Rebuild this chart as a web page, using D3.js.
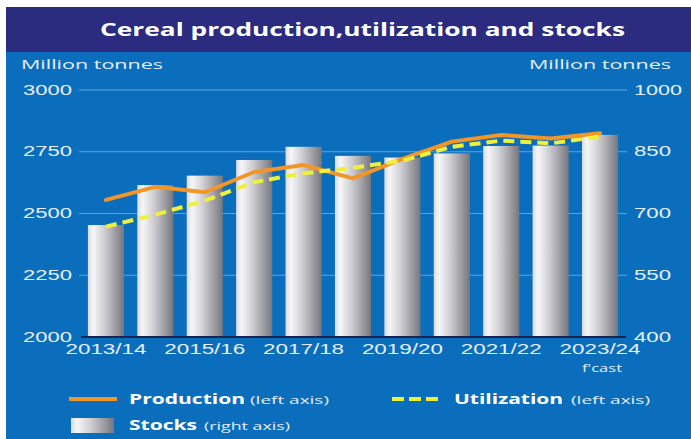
<!DOCTYPE html>
<html>
<head>
<meta charset="utf-8">
<script src="https://cdn.jsdelivr.net/npm/d3@7"></script>
<style>
  html, body { margin: 0; padding: 0; background: #fff; }
  svg { display: block; font-family: "Open Sans", "Noto Sans", sans-serif; }
</style>
</head>
<body>
<svg id="chart" width="691" height="439"></svg>
<script>
// Datos del gráfico
var seasons = ["2013/14", "2014/15", "2015/16", "2016/17", "2017/18", "2018/19",
               "2019/20", "2020/21", "2021/22", "2022/23", "2023/24"];
var production = [2555, 2608, 2586, 2668, 2696, 2642, 2721, 2791, 2818, 2804, 2825];
var utilization = [2447, 2495, 2552, 2627, 2663, 2685, 2714, 2770, 2795, 2784, 2811];
var stocks = [672, 769, 792, 830, 862, 840, 836, 846, 864, 865, 891];
var leftTicks = [2000, 2250, 2500, 2750, 3000];
var rightTicks = [400, 550, 700, 850, 1000];
var xLabels = ["2013/14", "2015/16", "2017/18", "2019/20", "2021/22", "2023/24"];

var svg = d3.select("#chart");
var plot = { left: 81, right: 625, top: 90, bottom: 337 };

// Ajusta el ancho de un texto (la imagen original está estirada)
function fit(sel, w) {
  sel.attr("textLength", w).attr("lengthAdjust", "spacingAndGlyphs");
  return sel;
}

// Fondo
svg.append("rect").attr("x", 6).attr("y", 7).attr("width", 685).attr("height", 45).attr("fill", "#2b2b7f");
svg.append("rect").attr("x", 6).attr("y", 52).attr("width", 685).attr("height", 387).attr("fill", "#0a6ebd");

// Título
fit(svg.append("text")
  .attr("x", 100).attr("y", 36)
  .attr("fill", "#fff").attr("font-size", 17).attr("font-weight", 700)
  .text("Cereal production,utilization and stocks"), 525);

// Escalas
var x = d3.scaleBand().domain(seasons).range([plot.left, plot.right]).paddingInner(0.27).paddingOuter(0.14);
var yL = d3.scaleLinear().domain([2000, 3000]).range([plot.bottom, plot.top]);
var yR = d3.scaleLinear().domain([400, 1000]).range([plot.bottom, plot.top]);

var labelColor = "#e6eef8";

// Unidades
fit(svg.append("text").attr("x", 21).attr("y", 69).attr("fill", labelColor).attr("font-size", 13).text("Million tonnes"), 142);
fit(svg.append("text").attr("x", 529).attr("y", 69).attr("fill", labelColor).attr("font-size", 13).text("Million tonnes"), 142);

// Gradiente de barras
var defs = svg.append("defs");
var grad = defs.append("linearGradient").attr("id", "barGrad").attr("x1", "0%").attr("x2", "100%");
grad.append("stop").attr("offset", "0%").attr("stop-color", "#d8dce4");
grad.append("stop").attr("offset", "15%").attr("stop-color", "#f6f6f8");
grad.append("stop").attr("offset", "45%").attr("stop-color", "#cfcfd3");
grad.append("stop").attr("offset", "100%").attr("stop-color", "#76767e");

// Líneas de grilla
svg.append("g").selectAll("line")
  .data(leftTicks.slice(1))
  .enter().append("line")
  .attr("x1", 79).attr("x2", 627)
  .attr("y1", function (d) { return yL(d); })
  .attr("y2", function (d) { return yL(d); })
  .attr("stroke", "#5ea3dd").attr("stroke-width", 1);

// Eje izquierdo
var yAxisL = d3.axisLeft(yL).tickValues(leftTicks).tickFormat(d3.format("d")).tickSize(0).tickPadding(0);
var gL = svg.append("g").attr("transform", "translate(23,0)").call(yAxisL);
gL.select(".domain").remove();
gL.selectAll("text").attr("text-anchor", "start").attr("x", 0).attr("dy", "0.3em")
  .attr("fill", labelColor).attr("font-size", 14).attr("font-family", null)
  .each(function () { fit(d3.select(this), 49); });

// Eje derecho
var yAxisR = d3.axisRight(yR).tickValues(rightTicks).tickFormat(d3.format("d")).tickSize(0).tickPadding(0);
var gR = svg.append("g").attr("transform", "translate(634,0)").call(yAxisR);
gR.select(".domain").remove();
gR.selectAll("text").attr("x", 0).attr("dy", "0.3em")
  .attr("fill", labelColor).attr("font-size", 14).attr("font-family", null)
  .each(function (d) { fit(d3.select(this), d >= 1000 ? 48 : 37); });

// Barras (stocks, eje derecho)
svg.append("g").selectAll("rect")
  .data(stocks)
  .enter().append("rect")
  .attr("x", function (d, i) { return x(seasons[i]); })
  .attr("y", function (d) { return yR(d); })
  .attr("width", x.bandwidth())
  .attr("height", function (d) { return yR(400) - yR(d); })
  .attr("fill", "url(#barGrad)");

// Línea base
svg.append("line").attr("x1", 81).attr("x2", 626).attr("y1", plot.bottom).attr("y2", plot.bottom)
  .attr("stroke", "#1a2452").attr("stroke-width", 2);

// Eje X
var xAxis = d3.axisBottom(x).tickValues(xLabels).tickSize(0).tickPadding(0);
var gX = svg.append("g").attr("transform", "translate(0," + (plot.bottom + 7) + ")").call(xAxis);
gX.select(".domain").remove();
gX.selectAll("text").attr("dy", "0.71em")
  .attr("fill", labelColor).attr("font-size", 14).attr("font-family", null)
  .each(function () { fit(d3.select(this), 81); });
fit(svg.append("text").attr("x", x("2023/24") + x.bandwidth() / 2 + 2).attr("y", 372)
  .attr("text-anchor", "middle").attr("fill", labelColor).attr("font-size", 10).text("f'cast"), 40);

// Líneas
var cx = function (d, i) { return x(seasons[i]) + x.bandwidth() / 2; };
var line = d3.line().x(cx).y(function (d) { return yL(d); });

svg.append("path").datum(production).attr("d", line)
  .attr("fill", "none").attr("stroke", "#f39628").attr("stroke-width", 4)
  .attr("stroke-linejoin", "round").attr("stroke-linecap", "round");
svg.append("path").datum(utilization).attr("d", line)
  .attr("fill", "none").attr("stroke", "#eef03c").attr("stroke-width", 4)
  .attr("stroke-dasharray", "11,6");

// Leyenda
var lg = svg.append("g");
lg.append("line").attr("x1", 69).attr("x2", 117).attr("y1", 399).attr("y2", 399)
  .attr("stroke", "#f39628").attr("stroke-width", 4);
fit(lg.append("text").attr("x", 129).attr("y", 404).attr("fill", "#fff").attr("font-size", 15).attr("font-weight", 700).text("Production"), 116);
fit(lg.append("text").attr("x", 250).attr("y", 404).attr("fill", labelColor).attr("font-size", 11).text("(left axis)"), 79);

lg.append("line").attr("x1", 392).attr("x2", 438).attr("y1", 399).attr("y2", 399)
  .attr("stroke", "#eef03c").attr("stroke-width", 4).attr("stroke-dasharray", "12,5");
fit(lg.append("text").attr("x", 454).attr("y", 404).attr("fill", "#fff").attr("font-size", 15).attr("font-weight", 700).text("Utilization"), 109);
fit(lg.append("text").attr("x", 571).attr("y", 404).attr("fill", labelColor).attr("font-size", 11).text("(left axis)"), 79);

lg.append("rect").attr("x", 71).attr("y", 418).attr("width", 43).attr("height", 15).attr("fill", "url(#barGrad)");
fit(lg.append("text").attr("x", 129).attr("y", 430).attr("fill", "#fff").attr("font-size", 15).attr("font-weight", 700).text("Stocks"), 68);
fit(lg.append("text").attr("x", 204).attr("y", 430).attr("fill", labelColor).attr("font-size", 11).text("(right axis)"), 86);
</script>
</body>
</html>
